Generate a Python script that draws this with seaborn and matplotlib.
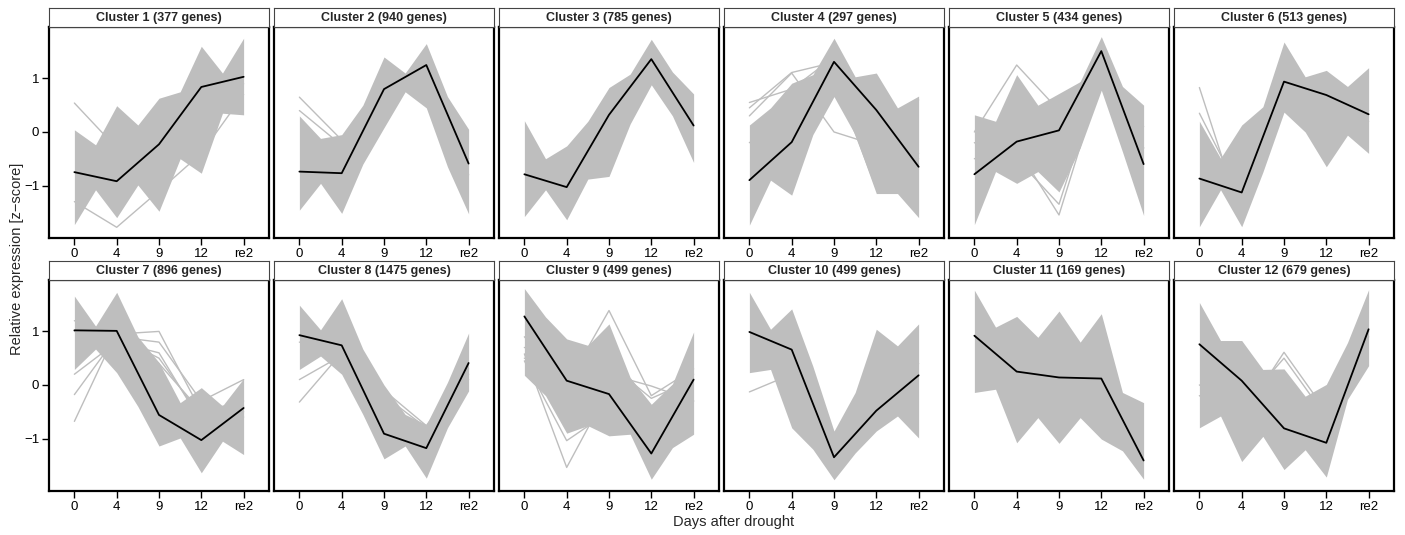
import numpy as np
import pandas as pd
import matplotlib
matplotlib.use("Agg")
import matplotlib.pyplot as plt
import seaborn as sns

sns.set_theme(style="ticks")
plt.rcParams["font.family"] = ["Liberation Sans", "DejaVu Sans"]

# Sampling days (categorical axis)
timepoints = ["0", "4", "9", "12", "re2"]

# Number of genes in each cluster
gene_counts = [377, 940, 785, 297, 434, 513, 896, 1475, 499, 499, 169, 679]

# Cluster centroid (mean z-score) per timepoint
mean_profiles = [
    [-0.75, -0.92, -0.23, 0.84, 1.03],
    [-0.74, -0.77, 0.80, 1.25, -0.59],
    [-0.79, -1.03, 0.32, 1.36, 0.12],
    [-0.90, -0.19, 1.31, 0.41, -0.65],
    [-0.79, -0.18, 0.03, 1.51, -0.60],
    [-0.87, -1.13, 0.94, 0.69, 0.33],
    [1.02, 1.01, -0.56, -1.03, -0.43],
    [0.93, 0.74, -0.91, -1.18, 0.41],
    [1.28, 0.08, -0.17, -1.28, 0.10],
    [0.99, 0.66, -1.35, -0.48, 0.18],
    [0.92, 0.25, 0.14, 0.12, -1.41],
    [0.76, 0.08, -0.81, -1.08, 1.04],
]

# Upper / lower edge of the member-gene bundle, sampled at every
# timepoint and halfway between neighbouring timepoints
band_upper = [
    [0.04, -0.24, 0.49, 0.13, 0.63, 0.75, 1.60, 1.10, 1.75],
    [0.30, -0.12, -0.05, 0.50, 1.40, 1.10, 1.65, 0.66, 0.05],
    [0.21, -0.50, -0.26, 0.20, 0.83, 1.08, 1.73, 1.12, 0.71],
    [0.13, 0.45, 0.91, 1.07, 1.75, 1.03, 1.10, 0.45, 0.67],
    [0.32, 0.20, 1.07, 0.50, 0.72, 0.94, 1.78, 0.85, 0.50],
    [0.20, -0.49, 0.13, 0.47, 1.68, 1.03, 1.15, 0.85, 1.20],
    [1.66, 1.10, 1.73, 0.90, 0.42, -0.33, -0.05, -0.39, 0.12],
    [1.49, 1.03, 1.61, 0.67, 0.00, -0.55, -0.74, 0.05, 0.97],
    [1.80, 1.27, 0.86, 0.74, 1.14, 0.14, -0.36, 0.02, 0.99],
    [1.73, 1.04, 1.42, 0.35, -0.86, -0.14, 1.04, 0.73, 1.14],
    [1.77, 1.08, 1.28, 0.89, 1.38, 0.80, 1.33, -0.14, -0.33],
    [1.54, 0.83, 0.83, 0.29, 0.30, -0.21, 0.01, 0.79, 1.78],
]
band_lower = [
    [-1.73, -1.08, -1.60, -0.99, -1.48, -0.50, -0.77, 0.35, 0.32],
    [-1.46, -0.96, -1.52, -0.60, 0.08, 0.75, 0.45, -0.65, -1.53],
    [-1.58, -1.08, -1.64, -0.88, -0.83, 0.15, 0.88, 0.30, -0.57],
    [-1.74, -0.90, -1.18, -0.05, 0.66, -0.05, -1.15, -1.15, -1.60],
    [-1.73, -0.74, -0.96, -0.74, -1.12, -0.30, 0.78, -0.37, -1.56],
    [-1.77, -1.08, -1.77, -0.75, 0.37, 0.00, -0.65, -0.06, -0.40],
    [0.29, 0.67, 0.23, -0.40, -1.14, -0.99, -1.64, -1.05, -1.30],
    [0.29, 0.54, 0.20, -0.55, -1.38, -1.14, -1.74, -0.80, -0.11],
    [0.18, -0.20, -0.90, -0.76, -0.95, -0.92, -1.76, -1.17, -0.92],
    [0.23, 0.29, -0.80, -1.20, -1.77, -1.27, -0.86, -0.58, -0.99],
    [-0.14, -0.08, -1.08, -0.61, -1.09, -0.61, -1.01, -1.23, -1.76],
    [-0.80, -0.58, -1.43, -0.96, -1.58, -1.21, -1.72, -0.27, 0.36],
]

# Individual genes that stray outside the main bundle
stray_profiles = [
    [[0.54, -0.30, -0.40, 0.10, 0.90], [-1.30, -1.78, -1.10, -0.40, 0.70]],
    [[0.65, -0.15, 0.70, 1.10, -0.50], [0.40, -0.25, 0.60, 1.20, -0.80]],
    [],
    [[0.55, 0.80, 1.40, 0.50, -0.60], [0.45, 1.11, 1.30, 0.30, -0.40],
     [0.30, 1.10, 0.00, -0.25, -0.50], [-0.20, 0.30, 1.00, -1.05, 0.60]],
    [[0.00, 1.25, 0.40, 1.40, -0.30], [-0.50, -0.30, -1.55, 1.00, -0.30],
     [-0.20, -0.50, -1.35, 1.10, 0.10]],
    [[0.83, -1.60, 0.90, 0.80, 0.40], [0.35, -1.20, 0.70, 0.50, 0.20]],
    [[-0.68, 1.00, 0.40, -0.50, -0.60], [-0.18, 0.90, 0.50, -0.60, -0.50],
     [0.20, 0.80, 0.60, -0.70, -0.40], [1.20, 0.95, 1.00, -0.50, -0.30],
     [1.00, 0.90, 0.80, -0.30, 0.10]],
    [[-0.32, 0.60, -0.30, -0.90, 0.10], [0.10, 0.55, -0.20, -0.80, 0.20],
     [0.80, 0.60, -0.10, -0.76, 0.30]],
    [[0.58, -1.54, -0.07, -0.60, 0.20], [0.45, -1.04, -0.50, -0.90, -0.30],
     [0.90, 0.00, 1.39, -0.20, 0.30], [0.50, 0.30, 0.20, -0.02, -0.30],
     [0.70, 0.50, 0.40, -0.25, 0.10]],
    [[-0.13, 0.20, -1.30, -0.30, 0.40]],
    [],
    [[-0.20, -0.60, 0.61, -0.50, 1.00], [0.00, -0.40, 0.50, -0.60, 0.90]],
]

GRAY = "#BEBEBE"
W, H = 1405, 535
fig = plt.figure(figsize=(W / 100, H / 100), dpi=100)


def px_box(left, top, width, height):
    return [left / W, 1 - (top + height) / H, width / W, height / H]


x_pos = np.arange(len(timepoints))
x_half = np.arange(2 * len(timepoints) - 1) / 2.0

for k in range(12):
    row, col = divmod(k, 6)
    left = 49 + col * 225
    top = 27 if row == 0 else 280
    ax = fig.add_axes(px_box(left, top, 220, 211))
    strip = fig.add_axes(px_box(left, top - 19, 220, 19))

    # member-gene bundle
    ax.fill_between(x_half, band_lower[k], band_upper[k], color=GRAY,
                    linewidth=0, zorder=1)
    if stray_profiles[k]:
        strays = pd.DataFrame(
            [(g, x, v) for g, prof in enumerate(stray_profiles[k])
             for x, v in zip(x_pos, prof)],
            columns=["gene", "x", "z"])
        sns.lineplot(data=strays, x="x", y="z", units="gene", estimator=None,
                     color=GRAY, linewidth=1.0, ax=ax, zorder=2)

    # cluster centroid
    centroid = pd.DataFrame({"x": x_pos, "z": mean_profiles[k]})
    sns.lineplot(data=centroid, x="x", y="z", color="black", linewidth=1.3,
                 ax=ax, zorder=3)

    ax.set_xlim(-0.6, 4.6)
    ax.set_ylim(-1.98, 1.96)
    ax.set_xticks(x_pos)
    ax.set_xticklabels(timepoints)
    ax.set_xlabel("")
    ax.set_ylabel("")
    for s in ax.spines.values():
        s.set_visible(True)
        s.set_color("black")
        s.set_linewidth(1.6)
    ax.tick_params(axis="both", direction="out", length=5, width=1,
                   colors="black", labelsize=9.5, pad=2)
    if col == 0:
        ax.set_yticks([-1, 0, 1])
        ax.set_yticklabels(["\u22121", "0", "1"])
    else:
        ax.set_yticks([])

    strip.set_xticks([])
    strip.set_yticks([])
    strip.set_facecolor("white")
    for s in strip.spines.values():
        s.set_visible(True)
        s.set_color("#444444")
        s.set_linewidth(0.8)
    strip.text(0.5, 0.45, f"Cluster {k + 1} ({gene_counts[k]} genes)",
               ha="center", va="center", fontsize=9, fontweight="bold",
               transform=strip.transAxes)

fig.text(734 / W, 1 - 522 / H, "Days after drought", ha="center",
         va="center", fontsize=10.5)
fig.text(17 / W, 1 - 259 / H, "Relative expression [z\u2212score]",
         ha="center", va="center", rotation=90, fontsize=10.5)

fig.savefig("out.png", dpi=100)
